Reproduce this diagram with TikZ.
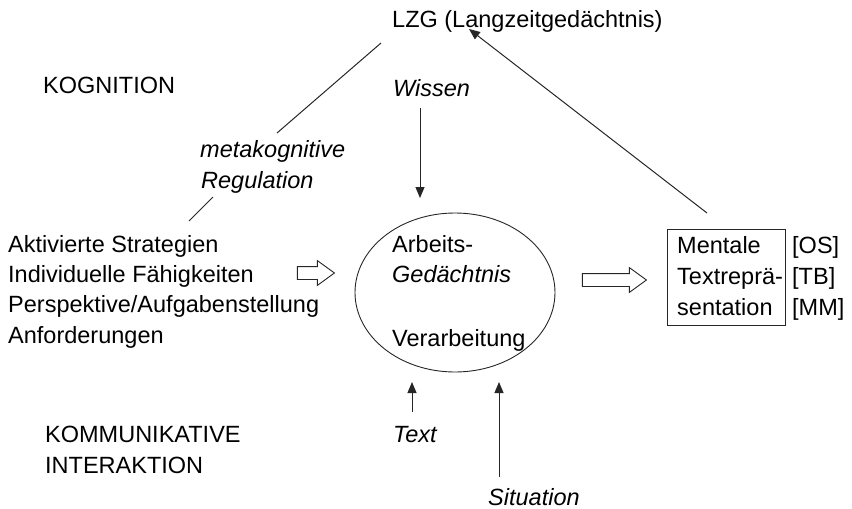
\documentclass[tikz,border=0pt]{standalone}
\usepackage{fontspec}
\setmainfont{Liberation Sans}
\usetikzlibrary{shapes.geometric,shapes.arrows,arrows.meta}
\begin{document}
\begin{tikzpicture}[x=1pt,y=-1pt,
  txt/.style={inner sep=0pt, anchor=base west, font=\fontsize{23.5}{28}\selectfont},
  itxt/.style={inner sep=0pt, anchor=base west, font=\fontsize{23.5}{28}\selectfont\itshape},
  conn/.style={line width=1pt, draw=black!85},
  arr/.style={conn, -{Triangle[length=11pt,width=9pt]}},
  blockarrow/.style={draw=black!85, line width=0.9pt, single arrow, inner xsep=0pt, inner ysep=6pt,
    single arrow head extend=6pt, single arrow tip angle=72}]
\useasboundingbox (0,0) rectangle (852,509);
% texts
\node[txt] (lzg) at (392,27) {LZG (Langzeitgedächtnis)};
\node[txt] (kog) at (43,93) {KOGNITION};
\node[itxt] (wissen) at (393,96) {Wissen};
\node[itxt] (meta1) at (200,157) {metakognitive};
\node[itxt] (meta2) at (201,188) {Regulation};
\node[txt] (l1) at (8,252) {Aktivierte Strategien};
\node[txt] (l2) at (8,282) {Individuelle Fähigkeiten};
\node[txt] (l3) at (8,312) {Perspektive/Aufgabenstellung};
\node[txt] (l4) at (8,343) {Anforderungen};
\node[txt] (kom1) at (45,442) {KOMMUNIKATIVE};
\node[txt] (kom2) at (45,473) {INTERAKTION};
\node[itxt] (text) at (393,442) {Text};
\node[itxt] (sit) at (488,505) {Situation};
% ellipse
\node[draw=black!85, line width=0.9pt, ellipse, minimum width=200pt, minimum height=159pt, inner sep=0pt] (wm) at (455,292.5) {};
\node[txt] (arb) at (392,252) {Arbeits-};
\node[itxt] (ged) at (392,282) {Gedächtnis};
\node[txt] (verarb) at (392,346) {Verarbeitung};
% box
\node[draw=black!85, line width=0.9pt, minimum width=118pt, minimum height=96pt, inner sep=0pt] (box) at (726,277) {};
\node[txt] (b1) at (677,253) {Mentale};
\node[txt] (b2) at (677,284) {Textreprä-};
\node[txt] (b3) at (677,315) {sentation};
\node[txt] (c1) at (792,253) {[OS]};
\node[txt] (c2) at (792,284) {[TB]};
\node[txt] (c3) at (792,315) {[MM]};
% block arrows
\node[blockarrow, minimum height=37pt] (arrL) at (311.5,273) {};
\node[blockarrow, minimum height=64pt] (arrR) at (610,280) {};
% connector end points
\coordinate (lzgL) at (381,43);
\coordinate (metaTop) at (277,133);
\coordinate (metaBot) at (213,197);
\coordinate (stratTop) at (189,221);
\coordinate (boxTop) at (707,213);
\coordinate (lzgArr) at (469,29);
\coordinate (wisTop) at (420,108);
\coordinate (wmTop) at (420,198);
\coordinate (txtTop) at (412,412);
\coordinate (wmB1) at (412,382);
\coordinate (sitTop) at (499,477);
\coordinate (wmB2) at (499,382);
% connectors
\draw[conn] (lzgL) -- (metaTop);
\draw[conn] (metaBot) -- (stratTop);
\draw[arr] (boxTop) -- (lzgArr);
\draw[arr] (wisTop) -- (wmTop);
\draw[arr] (txtTop) -- (wmB1);
\draw[arr] (sitTop) -- (wmB2);
\end{tikzpicture}
\end{document}
